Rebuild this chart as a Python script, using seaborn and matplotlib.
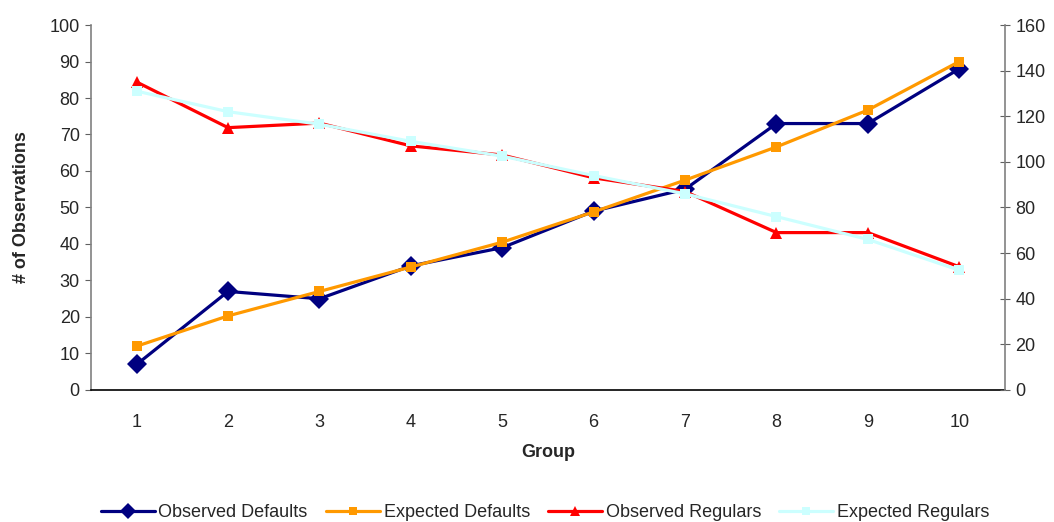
import numpy as np
import pandas as pd
import matplotlib.pyplot as plt
import seaborn as sns

groups = [1, 2, 3, 4, 5, 6, 7, 8, 9, 10]
observed_defaults = [7, 27, 25, 34, 39, 49, 55, 73, 73, 88]
expected_defaults = [12, 20.3, 27, 33.7, 40.5, 48.8, 57.5, 66.6, 76.7, 90]
observed_regulars = [135, 115, 117, 107, 103, 93, 87, 69, 69, 54]
expected_regulars = [131, 122, 116.5, 109, 102.5, 94, 86, 76, 66, 52.5]

sns.set_style("white")
plt.rcParams["font.family"] = ["Liberation Sans", "DejaVu Sans"]

fig = plt.figure(figsize=(10.54, 5.22), dpi=100)
ax = fig.add_axes([0.0863, 0.2529, 0.8672, 0.6992])
ax2 = ax.twinx()

df = pd.DataFrame({
    "Group": groups,
    "Observed Defaults": observed_defaults,
    "Expected Defaults": expected_defaults,
    "Observed Regulars": observed_regulars,
    "Expected Regulars": expected_regulars,
})

sns.lineplot(data=df, x="Group", y="Observed Defaults", ax=ax, color="#000080",
             marker="D", markersize=10, markeredgewidth=0, linewidth=2.3,
             label="Observed Defaults", legend=False, zorder=3)
sns.lineplot(data=df, x="Group", y="Expected Defaults", ax=ax, color="#FF9900",
             marker="s", markersize=7.5, markeredgewidth=0, linewidth=2.3,
             label="Expected Defaults", legend=False, zorder=4)
sns.lineplot(data=df, x="Group", y="Observed Regulars", ax=ax2, color="#FF0000",
             marker="^", markersize=9, markeredgewidth=0, linewidth=2.3,
             label="Observed Regulars", legend=False, zorder=3)
sns.lineplot(data=df, x="Group", y="Expected Regulars", ax=ax2, color="#CCFFFF",
             marker="s", markersize=7.5, markeredgewidth=0, linewidth=2.3,
             label="Expected Regulars", legend=False, zorder=4)

ax.set_xlim(0.5, 10.5)
ax.set_ylim(0, 100)
ax2.set_ylim(0, 160)
ax.set_yticks(np.arange(0, 101, 10))
ax2.set_yticks(np.arange(0, 161, 20))
ax.set_xticks(groups)
ax.set_xticks(np.arange(0.5, 10.6, 1), minor=True)
ax.tick_params(axis="x", which="major", length=0, labelsize=13, pad=17)
ax.tick_params(axis="x", which="minor", length=4, direction="out", color="#404040")
ax.tick_params(axis="y", length=4, direction="out", labelsize=13, color="#606060", pad=4)
ax2.tick_params(axis="y", length=7, direction="inout", labelsize=13, color="#606060", pad=4)

ax.set_xlabel("Group", fontsize=13, fontweight="bold", labelpad=10)
ax.set_ylabel("# of Observations", fontsize=13, fontweight="bold", labelpad=14)
ax2.set_ylabel("")

for a in (ax, ax2):
    a.spines["top"].set_visible(False)
ax2.spines["left"].set_visible(False)
ax2.spines["bottom"].set_visible(False)
ax.spines["right"].set_visible(False)
ax.spines["left"].set_color("#808080")
ax2.spines["right"].set_color("#808080")
ax.spines["bottom"].set_color("black")
for s in ("left", "bottom"):
    ax.spines[s].set_linewidth(1.2)
ax2.spines["right"].set_linewidth(1.2)

h1, l1 = ax.get_legend_handles_labels()
h2, l2 = ax2.get_legend_handles_labels()
fig.legend(h1 + h2, l1 + l2, loc="center", bbox_to_anchor=(0.517, 0.018), ncol=4,
           frameon=False, fontsize=13, handlelength=3, columnspacing=1.0,
           handletextpad=0.2, markerscale=0.8)

fig.savefig("out.png", dpi=100)
